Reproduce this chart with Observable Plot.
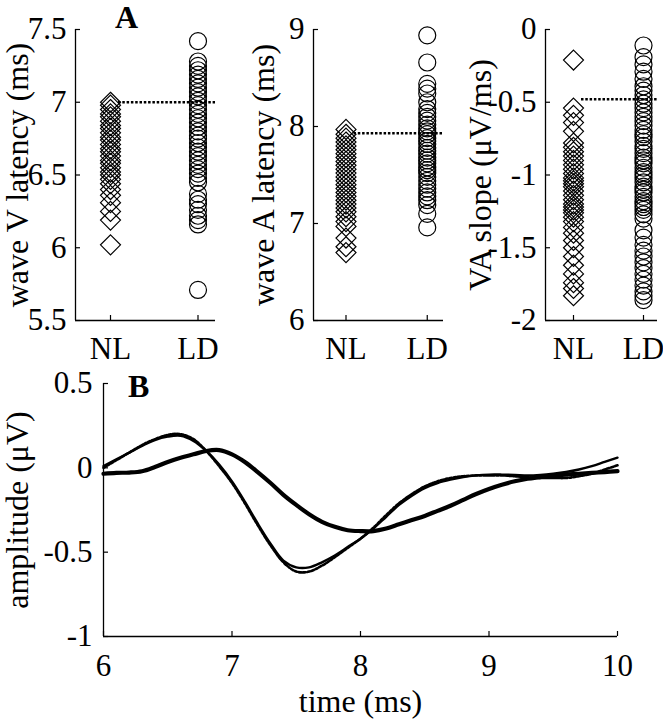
<!DOCTYPE html>
<html><head><meta charset="utf-8">
<script src="https://cdn.jsdelivr.net/npm/d3@7"></script>
<script src="https://cdn.jsdelivr.net/npm/@observablehq/plot@0.6"></script>
<style>
body{margin:0;background:#fff;}
#wrap{position:relative;width:663px;height:719px;overflow:hidden;background:#fff;font-family:"Liberation Serif","Times New Roman",serif;}
.panel{position:absolute;}
.plabel{position:absolute;font-weight:bold;font-size:32px;line-height:1;color:#000;}
</style></head><body>
<div id="wrap">
  <div class="plabel" style="left:115px;top:1px;">A</div>
  <div class="plabel" style="left:128px;top:370px;">B</div>
</div>
<script>
// ---------- data ----------
const groups = ["NL", "LD"];

const waveV_NL = [6.02, 6.19, 6.25, 6.31, 6.36, 6.40, 6.44, 6.47, 6.50, 6.52, 6.55, 6.58, 6.60, 6.63, 6.66, 6.68, 6.71, 6.74, 6.76, 6.79, 6.82, 6.84, 6.87, 6.90, 6.92, 6.95, 6.98, 7.00];
const waveV_LD = [5.71, 6.16, 6.19, 6.22, 6.26, 6.30, 6.33, 6.37, 6.45, 6.48, 6.51, 6.54, 6.57, 6.60, 6.63, 6.66, 6.69, 6.72, 6.75, 6.77, 6.80, 6.83, 6.86, 6.89, 6.92, 6.95, 6.98, 7.01, 7.04, 7.07, 7.10, 7.13, 7.16, 7.19, 7.22, 7.25, 7.28, 7.42];
const waveV_threshold = 7.0;

const waveA_NL = [6.70, 6.76, 6.85, 6.97, 7.02, 7.07, 7.12, 7.16, 7.20, 7.24, 7.28, 7.32, 7.36, 7.40, 7.44, 7.48, 7.52, 7.56, 7.60, 7.64, 7.68, 7.72, 7.76, 7.80, 7.84, 7.88, 7.92, 7.97];
const waveA_LD = [6.96, 7.10, 7.19, 7.24, 7.28, 7.32, 7.36, 7.40, 7.44, 7.48, 7.52, 7.55, 7.58, 7.62, 7.65, 7.68, 7.72, 7.75, 7.78, 7.82, 7.85, 7.88, 7.92, 7.95, 7.98, 8.02, 8.06, 8.10, 8.14, 8.18, 8.25, 8.34, 8.39, 8.44, 8.66, 8.94];
const waveA_threshold = 7.93;

const slope_NL = [-1.83, -1.78, -1.74, -1.68, -1.62, -1.56, -1.50, -1.45, -1.40, -1.36, -1.32, -1.29, -1.26, -1.24, -1.22, -1.20, -1.17, -1.14, -1.11, -1.08, -1.06, -1.04, -1.02, -0.99, -0.96, -0.93, -0.90, -0.87, -0.84, -0.81, -0.78, -0.70, -0.64, -0.59, -0.54, -0.21];
const slope_LD = [-1.86, -1.83, -1.80, -1.76, -1.72, -1.68, -1.64, -1.60, -1.56, -1.52, -1.48, -1.43, -1.38, -1.30, -1.27, -1.24, -1.22, -1.20, -1.18, -1.15, -1.12, -1.10, -1.08, -1.05, -1.02, -1.00, -0.98, -0.95, -0.92, -0.90, -0.88, -0.85, -0.82, -0.80, -0.77, -0.74, -0.72, -0.69, -0.66, -0.63, -0.60, -0.57, -0.54, -0.51, -0.48, -0.45, -0.42, -0.39, -0.34, -0.29, -0.24, -0.19, -0.11];
const slope_threshold = -0.48;

const ticksV = [5.5, 6, 6.5, 7, 7.5];
const ticksA = [6, 7, 8, 9];
const ticksSlope = [-2, -1.5, -1, -0.5, 0];

const time = [6.0, 6.1, 6.2, 6.3, 6.4, 6.5, 6.6, 6.7, 6.8, 6.9, 7.0, 7.1, 7.2, 7.3, 7.4, 7.5, 7.6, 7.7, 7.8, 7.9, 8.0, 8.1, 8.2, 8.3, 8.4, 8.5, 8.6, 8.7, 8.8, 8.9, 9.0, 9.1, 9.2, 9.3, 9.4, 9.5, 9.6, 9.7, 9.8, 9.9, 10.0];
const ampThick = [-0.035, -0.03, -0.028, -0.02, 0.005, 0.035, 0.06, 0.08, 0.1, 0.105, 0.08, 0.035, -0.025, -0.09, -0.16, -0.22, -0.275, -0.32, -0.35, -0.37, -0.375, -0.375, -0.36, -0.335, -0.31, -0.285, -0.255, -0.225, -0.19, -0.155, -0.125, -0.1, -0.08, -0.065, -0.055, -0.045, -0.04, -0.035, -0.03, -0.025, -0.02];
const ampThin = [0.01, 0.05, 0.09, 0.13, 0.165, 0.185, 0.19, 0.16, 0.10, 0.02, -0.08, -0.20, -0.33, -0.45, -0.55, -0.59, -0.59, -0.56, -0.52, -0.47, -0.42, -0.36, -0.29, -0.22, -0.165, -0.12, -0.09, -0.07, -0.055, -0.045, -0.04, -0.04, -0.042, -0.045, -0.042, -0.035, -0.025, -0.01, 0.01, 0.035, 0.06];
const ampDotted = [0.0, 0.045, 0.09, 0.135, 0.17, 0.195, 0.2, 0.17, 0.10, 0.01, -0.09, -0.21, -0.34, -0.46, -0.56, -0.615, -0.615, -0.58, -0.53, -0.475, -0.42, -0.355, -0.28, -0.21, -0.155, -0.11, -0.08, -0.06, -0.05, -0.045, -0.045, -0.045, -0.05, -0.055, -0.06, -0.06, -0.06, -0.05, -0.035, -0.01, 0.015];
const timeTicks = [6, 7, 8, 9, 10];
const ampTicks = [-1, -0.5, 0, 0.5];

// ---------- helpers ----------
const FONT = '"Liberation Serif","Times New Roman",serif';
const TICK_FS = "31px";
const wrap = document.getElementById("wrap");
function place(svg, left, top) {
  const d = document.createElement("div");
  d.className = "panel";
  d.style.left = left + "px";
  d.style.top = top + "px";
  d.appendChild(svg);
  wrap.appendChild(d);
}
const fmt = d => String(d);

function scatterPanel({nl, ld, threshold, yTicks, yLabel, left, width, marginLeft, marginRight, labelDx}) {
  const xDomain = [0.6, 2.2];
  const yDomain = [yTicks[0], yTicks[yTicks.length - 1]];
  const gNL = groups.indexOf("NL") + 1, gLD = groups.indexOf("LD") + 1;
  const nlData = nl.map(v => ({g: gNL, v}));
  const ldData = ld.map(v => ({g: gLD, v}));
  const svg = Plot.plot({
    width, height: 365,
    marginLeft, marginRight, marginTop: 29, marginBottom: 45,
    style: {fontFamily: FONT, fontSize: TICK_FS, color: "black", background: "transparent", overflow: "visible"},
    x: {domain: xDomain},
    y: {domain: yDomain},
    marks: [
      Plot.ruleX([xDomain[0]], {stroke: "black", strokeWidth: 1.3}),
      Plot.ruleY([yDomain[0]], {stroke: "black", strokeWidth: 1.3}),
      Plot.dot(nlData, {x: "g", y: "v", symbol: "diamond2", r: 9, stroke: "black", strokeWidth: 1.2, fill: "none"}),
      Plot.dot(ldData, {x: "g", y: "v", symbol: "circle", r: 8.5, stroke: "black", strokeWidth: 1.2, fill: "none"}),
      Plot.ruleY([threshold], {x1: gNL, x2: xDomain[1], insetLeft: 8, stroke: "black", strokeWidth: 2.5, strokeDasharray: "2.5,1.8"}),
      Plot.axisY({ticks: yTicks, tickFormat: fmt, tickSize: -5, tickPadding: 14, label: null, strokeWidth: 1.2}),
      Plot.axisX({ticks: [gNL, gLD], tickFormat: d => groups[d - 1], tickSize: -5, tickPadding: 21, label: null, strokeWidth: 1.2}),
      Plot.text([yLabel], {frameAnchor: "left", dx: labelDx, rotate: -90, textAnchor: "middle", lineAnchor: "middle", fontSize: 32, fill: "black"})
    ]
  });
  place(svg, left, 0);
}

scatterPanel({nl: waveV_NL, ld: waveV_LD, threshold: waveV_threshold, yTicks: ticksV, yLabel: "wave V latency (ms)", left: 0, width: 220, marginLeft: 75, marginRight: 5, labelDx: -58});
scatterPanel({nl: waveA_NL, ld: waveA_LD, threshold: waveA_threshold, yTicks: ticksA, yLabel: "wave A latency (ms)", left: 220, width: 230, marginLeft: 93, marginRight: 7, labelDx: -50});
scatterPanel({nl: slope_NL, ld: slope_LD, threshold: slope_threshold, yTicks: ticksSlope, yLabel: "VA slope (\u03bcV/ms)", left: 450, width: 213, marginLeft: 95, marginRight: 6, labelDx: -65});

// ---------- panel B ----------
{
  const xDomain = [timeTicks[0], timeTicks[timeTicks.length - 1]];
  const yDomain = [ampTicks[0], ampTicks[ampTicks.length - 1]];
  const svg = Plot.plot({
    width: 663, height: 359,
    marginLeft: 103, marginRight: 46, marginTop: 23, marginBottom: 83,
    style: {fontFamily: FONT, fontSize: TICK_FS, color: "black", background: "transparent", overflow: "visible"},
    x: {domain: xDomain},
    y: {domain: yDomain},
    marks: [
      Plot.ruleX([xDomain[0]], {stroke: "black", strokeWidth: 1.3}),
      Plot.ruleY([yDomain[0]], {stroke: "black", strokeWidth: 1.3}),
      Plot.line(time, {x: d => d, y: (d, i) => ampThick[i], stroke: "black", strokeWidth: 4.2, curve: "catmull-rom"}),
      Plot.line(time, {x: d => d, y: (d, i) => ampThin[i], stroke: "black", strokeWidth: 2.4, curve: "catmull-rom"}),
      Plot.line(time, {x: d => d, y: (d, i) => ampDotted[i], stroke: "black", strokeWidth: 2.6, strokeDasharray: "2.5,1.8", curve: "catmull-rom"}),
      Plot.axisY({ticks: ampTicks, tickFormat: fmt, tickSize: -5, tickPadding: 16, label: null, strokeWidth: 1.2}),
      Plot.axisX({ticks: timeTicks, tickFormat: fmt, tickSize: -5, tickPadding: 22, label: null, strokeWidth: 1.2}),
      Plot.text(["time (ms)"], {frameAnchor: "bottom", dy: 65, textAnchor: "middle", lineAnchor: "middle", fontSize: 32, fill: "black"}),
      Plot.text(["amplitude (\u03bcV)"], {frameAnchor: "left", dx: -86, rotate: -90, textAnchor: "middle", lineAnchor: "middle", fontSize: 32, fill: "black"})
    ]
  });
  place(svg, 0, 360);
}
</script>
</body></html>
